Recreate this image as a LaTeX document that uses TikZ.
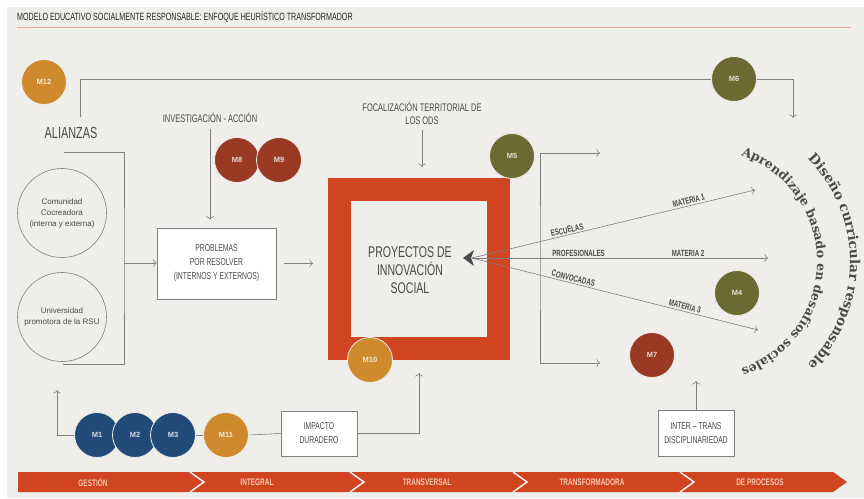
\documentclass[tikz,border=0pt]{standalone}
\usepackage{fontspec}
\setmainfont{Liberation Sans}
\newfontfamily\condfont[FakeStretch=0.68]{Liberation Sans}
\newfontfamily\curvefont{DejaVu Serif}
\usetikzlibrary{arrows.meta,decorations.text}

\definecolor{bgcol}{HTML}{EFEEEB}
\definecolor{ochre}{HTML}{CF8A2E}
\definecolor{olive}{HTML}{6B6A32}
\definecolor{rust}{HTML}{993A25}
\definecolor{navy}{HTML}{214A79}
\definecolor{brick}{HTML}{D0441F}
\definecolor{inkgray}{HTML}{4A4A4A}
\definecolor{linegray}{HTML}{7E7E7E}
\definecolor{rulered}{HTML}{E9A594}
\definecolor{barink}{HTML}{F6C8B0}

\tikzset{
  conn/.style={draw=linegray, line width=0.6pt},
  arr/.style={conn, -{To[length=3.5pt,width=8pt]}},
  mcirc/.style={circle, minimum size=45pt, inner sep=0pt, draw=bgcol, line width=0.8pt,
    text=white, text opacity=0.8, font=\bfseries\fontsize{7.5}{7.5}\selectfont},
  bigcirc/.style={circle, draw=linegray, line width=0.6pt, minimum size=89pt, inner sep=0pt,
    align=center, text=inkgray, font=\fontsize{8}{11}\selectfont},
  txtbox/.style={draw=linegray, fill=white, line width=0.6pt, align=center, inner sep=2pt,
    text=inkgray, font=\condfont\fontsize{10}{14}\selectfont},
  heading/.style={text=inkgray, align=center, inner sep=0pt},
  lbl/.style={text=inkgray, inner sep=1.5pt, font=\condfont\bfseries\fontsize{9}{9}\selectfont},
  barlbl/.style={text=barink, inner sep=0pt, font=\condfont\bfseries\fontsize{9.5}{10}\selectfont},
  redframe/.style={draw=brick, line width=23pt, minimum size=159pt, inner sep=0pt}
}

\begin{document}
\begin{tikzpicture}[x=1pt,y=1pt]
    \useasboundingbox (0,0) rectangle (864,-498);
    \fill[white] (0,0) rectangle (864,-498);
    \fill[bgcol] (7,-7) rectangle (864,-498);

    % title
    \node[anchor=west, inner sep=0pt, text=black!85, font=\condfont\fontsize{10.5}{10.5}\selectfont] (title) at (17,-17)
        {MODELO EDUCATIVO SOCIALMENTE RESPONSABLE: ENFOQUE HEURÍSTICO TRANSFORMADOR};
    \draw[rulered, line width=0.8pt] (17,-27) -- (851,-27);

    % main block
    \node[redframe] (proy) at (419,-269) {};
    \node[heading, font=\condfont\fontsize{15.5}{18}\selectfont] (proytxt) at (410,-270)
        {PROYECTOS DE\\INNOVACIÓN\\SOCIAL};

    \node[heading, font=\condfont\fontsize{16}{16}\selectfont] (ali) at (71,-133) {ALIANZAS};
    \node[heading, font=\condfont\fontsize{11}{11}\selectfont] (inv) at (210,-118) {INVESTIGACIÓN - ACCIÓN};
    \node[heading, font=\condfont\fontsize{11}{13}\selectfont] (foc) at (422,-113.5)
        {FOCALIZACIÓN TERRITORIAL DE\\LOS ODS};

    \node[bigcirc] (comu) at (62,-213) {Comunidad\\Cocreadora\\(interna y externa)};
    \node[bigcirc] (univ) at (62,-317) {Universidad\\promotora de la RSU};

    \node[txtbox, minimum width=119pt, minimum height=71pt] (prob) at (216.5,-263.5)
        {PROBLEMAS\\POR RESOLVER\\(INTERNOS Y EXTERNOS)};
    \node[txtbox, minimum width=76pt, minimum height=45pt] (imp) at (319,-433.5) {IMPACTO\\DURADERO};
    \node[txtbox, minimum width=76pt, minimum height=46pt] (inter) at (696,-433) {INTER – TRANS\\DISCIPLINARIEDAD};

    % M circles
    \node[mcirc, fill=ochre] (m12) at (44,-82) {M12};
    \node[mcirc, fill=olive] (m6) at (734,-79) {M6};
    \node[mcirc, fill=rust] (m8) at (237,-160) {M8};
    \node[mcirc, fill=rust] (m9) at (279,-160) {M9};
    \node[mcirc, fill=olive] (m5) at (512,-156) {M5};
    \node[mcirc, fill=ochre] (m10) at (370,-360) {M10};
    \node[mcirc, fill=olive] (m4) at (737,-293) {M4};
    \node[mcirc, fill=rust] (m7) at (652,-355) {M7};
    \foreach \i/\x in {1/97,2/135,3/173}
        \node[mcirc, fill=navy] (m\i) at (\x,-435) {M\i};
    \node[mcirc, fill=ochre] (m11) at (226,-435) {M11};

    % connectors
    \coordinate (alitop) at (80,-117);
    \coordinate (dcr) at (793,-118);
    \draw[conn] (alitop) |- (m6.west);
    \draw[arr] (m6.east) -| (dcr);

    \coordinate (brtop) at (64,-152);
    \coordinate (brbot) at (63,-364);
    \coordinate (brmid) at (124,-263);
    \draw[conn] (brtop) -| (brmid) |- (brbot);
    \draw[arr] (brmid) -- (brmid -| prob.west);

    \draw[arr, shorten <=6pt, shorten >=8pt] (inv.south) -- (inv.south |- prob.north);
    \draw[arr, shorten <=5pt, shorten >=11pt] (foc.south) -- (foc.south |- proy.north);
    \draw[arr, shorten <=8pt, shorten >=15pt] (prob.east) -- (prob.east -| proy.west);

    \coordinate (upleft) at (57,-390);
    \draw[arr] (m1.west) -| (upleft);
    \draw[conn] (m3.east) -- (m11.west);
    \draw[conn] (m11.east) -- (imp.west);
    \draw[arr, shorten >=13pt] (imp.east) -| (proy.south);

    \coordinate (interup) at (696,-381);
    \draw[arr] (inter.north) -- (interup);

    \coordinate (outtop) at (600,-153);
    \coordinate (outbot) at (600,-363);
    \coordinate (brx) at (540,-258);
    \draw[conn, {To[length=3.5pt,width=8pt]}-{To[length=3.5pt,width=8pt]}] (outtop) -| (brx) |- (outbot);

    % fan of materias
    \coordinate (hub) at (472,-258);
    \coordinate (mat1) at (755,-190);
    \coordinate (mat2) at (768,-258);
    \coordinate (mat3) at (758,-330);
    \draw[arr] (hub) -- (mat1) node[lbl, pos=0.34, sloped, above] {ESCUELAS}
        node[lbl, pos=0.77, sloped, above] {MATERIA 1};
    \draw[arr] (hub) -- (mat2) node[lbl, pos=0.36, above] {PROFESIONALES}
        node[lbl, pos=0.73, above] {MATERIA 2};
    \draw[arr] (hub) -- (mat3) node[lbl, pos=0.35, sloped, above] {CONVOCADAS}
        node[lbl, pos=0.74, sloped, above] {MATERIA 3};
    \fill[inkgray] (hub) ++(-9,0) -- ++(11,8) -- ++(-3,-8) -- ++(3,-8) -- cycle;

    % curved titles
    \path[decorate, decoration={text along path, text align=center, text color=inkgray,
        text={|\curvefont\bfseries\fontsize{13.5}{16}\selectfont|Diseño curricular responsable}}]
        (704,-262) ++(62:146pt) arc[start angle=62, end angle=-62, radius=146pt];
    \path[decorate, decoration={text along path, text align=center, text color=inkgray,
        text={|\curvefont\bfseries\fontsize{12.5}{15}\selectfont|Aprendizaje basado en desafíos sociales}}]
        (704,-262) ++(80:113pt) arc[start angle=80, end angle=-80, radius=113pt];

    % bottom bar
    \fill[brick] (18,-472) -- (833,-472) -- (847,-482) -- (833,-492) -- (18,-492) -- cycle;
    \foreach \x in {190,350,513,680}
        \draw[white, line width=1.4pt] (\x,-472) -- ({\x+14},-482) -- (\x,-492);
    \foreach \x/\lab in {93/GESTIÓN,257/INTEGRAL,427/TRANSVERSAL,592/TRANSFORMADORA,760/DE PROCESOS}
        \node[barlbl] (bar\x) at (\x,-482) {\lab};
\end{tikzpicture}
\end{document}
